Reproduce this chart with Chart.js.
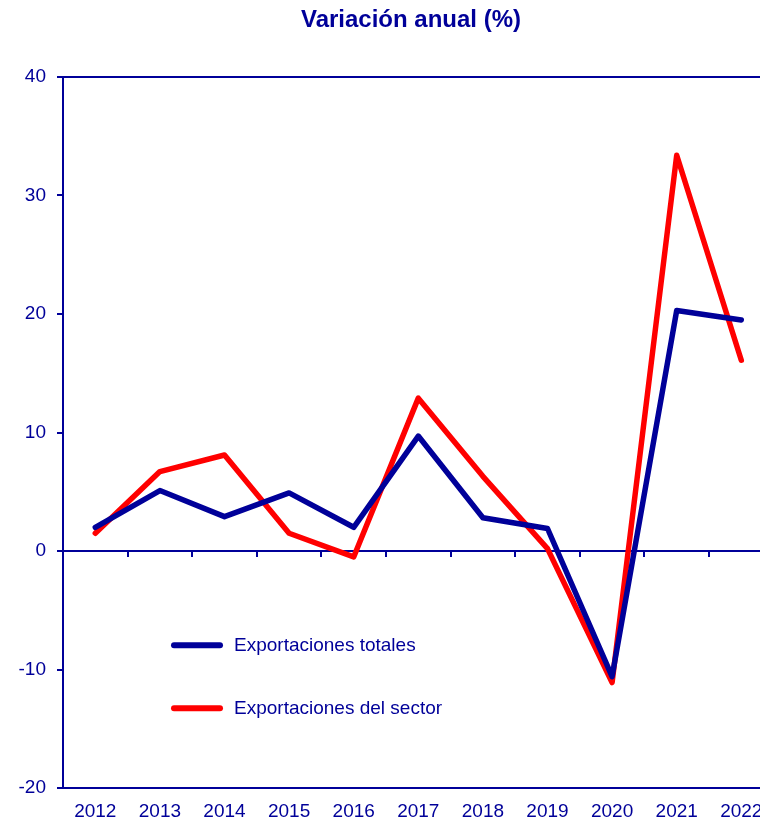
<!DOCTYPE html>
<html>
<head>
<meta charset="utf-8">
<script src="https://cdn.jsdelivr.net/npm/chart.js@4.4.1/dist/chart.umd.min.js"></script>
<style>
  html, body { margin: 0; padding: 0; overflow: hidden; background: #ffffff; }
  #wrap { width: 790px; height: 824px; }
</style>
</head>
<body>
<div id="wrap"><canvas id="c" width="790" height="824"></canvas></div>
<script>
const titleText = 'Variación anual (%)';
const years = ['2012','2013','2014','2015','2016','2017','2018','2019','2020','2021','2022'];
const totales = [2.0, 5.1, 2.9, 4.9, 2.0, 9.7, 2.8, 1.9, -10.6, 20.3, 19.5];
const sector  = [1.5, 6.7, 8.1, 1.5, -0.5, 12.9, 6.3, 0.2, -11.1, 33.4, 16.1];
const seriesNames = ['Exportaciones totales', 'Exportaciones del sector'];
const yTicks = [-20, -10, 0, 10, 20, 30, 40];

const NAVY = '#000099';
const RED = '#ff0000';
const FONT = "'Liberation Sans', Arial, sans-serif";

const overlay = {
  id: 'overlay',
  afterDraw(chart) {
    const ctx = chart.ctx;
    const x = chart.scales.x, y = chart.scales.y;
    const y0 = y.getPixelForValue(0);
    ctx.save();
    // tick marks on zero line at category boundaries
    ctx.strokeStyle = NAVY;
    ctx.lineWidth = 2;
    for (let i = 1; i < years.length; i++) {
      const px = Math.round(x.getPixelForValue(i - 0.5));
      ctx.beginPath();
      ctx.moveTo(px, y0);
      ctx.lineTo(px, y0 + 6);
      ctx.stroke();
    }
    // title
    ctx.fillStyle = NAVY;
    ctx.font = 'bold 24px ' + FONT;
    ctx.textAlign = 'center';
    ctx.textBaseline = 'middle';
    ctx.fillText(titleText, 411, 20);
    // legend
    const colors = [NAVY, RED];
    const ly = [y.getPixelForValue(-7.95), y.getPixelForValue(-13.27)];
    ctx.font = '19px ' + FONT;
    ctx.textAlign = 'left';
    for (let i = 0; i < 2; i++) {
      ctx.strokeStyle = colors[i];
      ctx.lineWidth = 6;
      ctx.lineCap = 'round';
      ctx.beginPath();
      ctx.moveTo(174, ly[i]);
      ctx.lineTo(220, ly[i]);
      ctx.stroke();
      ctx.fillStyle = NAVY;
      ctx.fillText(chart.data.datasets[i].label, 234, ly[i] + 1);
    }
    ctx.restore();
  }
};

new Chart(document.getElementById('c'), {
  type: 'line',
  data: {
    labels: years,
    datasets: [
      { label: seriesNames[0], data: totales, borderColor: NAVY, backgroundColor: NAVY,
        borderWidth: 5.5, pointRadius: 0, tension: 0, borderJoinStyle: 'round', borderCapStyle: 'round' },
      { label: seriesNames[1], data: sector, borderColor: RED, backgroundColor: RED,
        borderWidth: 5.5, pointRadius: 0, tension: 0, borderJoinStyle: 'round', borderCapStyle: 'round' }
    ]
  },
  options: {
    responsive: false,
    animation: false,
    devicePixelRatio: 1,
    layout: { padding: { top: 77, right: 16.4, bottom: 0, left: 0 } },
    plugins: { legend: { display: false }, title: { display: false }, tooltip: { enabled: false } },
    scales: {
      x: {
        type: 'category',
        offset: true,
        grid: { display: false, drawTicks: false },
        border: { display: true, color: NAVY, width: 2 },
        ticks: { color: NAVY, font: { family: FONT, size: 19 }, padding: 12, maxRotation: 0, autoSkip: false },
        afterFit(s) { s.height = 36; }
      },
      y: {
        min: -20, max: 40,
        afterBuildTicks(s) { s.ticks = yTicks.map(v => ({ value: v })); },
        grid: {
          color: c => (c.tick && (c.tick.value === 0 || c.tick.value === 40)) ? NAVY : 'rgba(0,0,0,0)',
          tickColor: NAVY,
          lineWidth: 2,
          tickLength: 6,
          drawTicks: true
        },
        border: { display: true, color: NAVY, width: 2 },
        ticks: { color: NAVY, font: { family: FONT, size: 19 }, padding: 11 },
        afterFit(s) { s.width = 63; }
      }
    }
  },
  plugins: [overlay]
});
</script>
</body>
</html>
